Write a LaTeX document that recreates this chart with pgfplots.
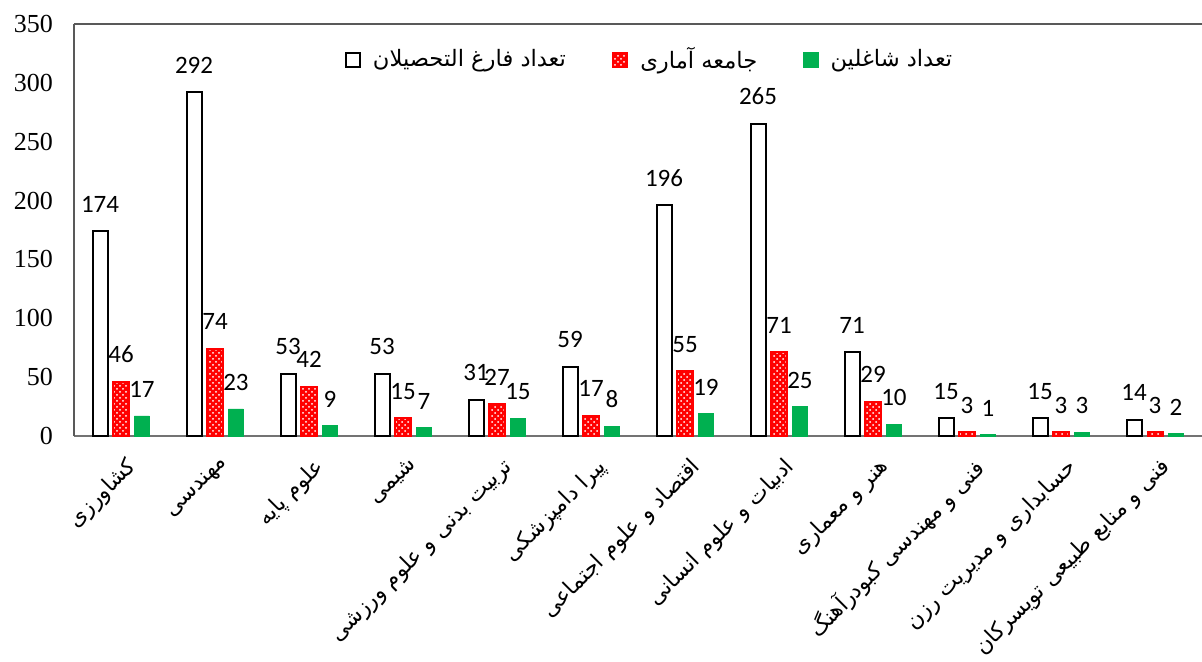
\documentclass[border=0pt]{standalone}
\usepackage{fontspec}
\setmainfont{Liberation Serif}
\newfontfamily\arabicfont[Script=Arabic]{DejaVu Sans}
\newfontfamily\numfont{Carlito}
\TeXXeTstate=1
\usepackage{pgfplots}
\usepackage{pgfplotstable}
\pgfplotsset{compat=1.18}
\usetikzlibrary{patterns}

% x: category index, grad = graduates, pop = sample, emp = employed
\pgfplotstableread{
x grad pop emp
0  174 46 17
1  292 74 23
2  53  42 9
3  53  15 7
4  31  27 15
5  59  17 8
6  196 55 19
7  265 71 25
8  71  29 10
9  15  3  1
10 15  3  3
11 14  3  2
}\data

\definecolor{exgreen}{HTML}{00B050}
\definecolor{axgray}{HTML}{595959}

\begin{document}
\begin{tikzpicture}
\begin{axis}[
  scale only axis,
  width=564pt, height=206pt,
  ybar,
  bar width=0.16,
  xmin=-0.5, xmax=11.5,
  ymin=0, ymax=350,
  ytick={0,50,...,350},
  xtick={0,...,11},
  xticklabels={
    {\beginR کشاورزی\endR},
    {\beginR مهندسی\endR},
    {\beginR علوم پایه\endR},
    {\beginR شیمی\endR},
    {\beginR تربیت بدنی و علوم ورزشی\endR},
    {\beginR پیرا دامپزشکی\endR},
    {\beginR اقتصاد و علوم اجتماعی\endR},
    {\beginR ادبیات و علوم انسانی\endR},
    {\beginR هنر و معماری\endR},
    {\beginR فنی و مهندسی کبودرآهنگ\endR},
    {\beginR حسابداری و مدیریت رزن\endR},
    {\beginR فنی و منابع طبیعی تویسرکان\endR}},
  axis x line*=bottom,
  axis y line*=left,
  x axis line style={draw=gray!90!black, line width=0.8pt},
  y axis line style={draw=axgray, line width=0.8pt},
  major tick length=0pt,
  /pgf/number format/assume math mode=true,
  yticklabel style={font=\fontsize{13}{13}\selectfont, xshift=-7pt},
  xticklabel style={rotate=45, anchor=north east,
    font=\arabicfont\fontsize{11}{13}\selectfont, yshift=-5pt, xshift=-2pt},
  nodes near coords,
  every node near coord/.append style={font=\numfont\fontsize{12.5}{13}\selectfont,
    black, anchor=south, inner sep=0pt, yshift=9pt},
  legend columns=3,
  legend style={at={(0.511,0.913)}, anchor=center, draw=none, fill=none,
    font=\arabicfont\fontsize{11.3}{13}\selectfont,
    /tikz/every even column/.append style={column sep=21pt}},
  legend image code/.code={\draw[#1] (0pt,-3.6pt) rectangle (7.2pt,3.6pt);},
]
\addplot[bar shift=-0.223, draw=black, fill=white, line width=1pt]
  table[x=x, y=grad]{\data};
\addlegendentry{\hspace{4pt}\beginR تعداد فارغ التحصیلان\endR}
\addplot[bar shift=0, draw=red, fill=red, line width=1pt,
  postaction={pattern=crosshatch dots, pattern color=white}]
  table[x=x, y=pop]{\data};
\addlegendentry{\hspace{4pt}\beginR جامعه آماری\endR}
\addplot[bar shift=0.223, draw=exgreen, fill=exgreen]
  table[x=x, y=emp]{\data};
\addlegendentry{\hspace{4pt}\beginR تعداد شاغلین\endR}
\draw[axgray, line width=0.8pt] (rel axis cs:0,1) -- (rel axis cs:1,1);
\coordinate (bl) at (rel axis cs:0,0);
\coordinate (tr) at (rel axis cs:1,1);
\end{axis}
\pgfresetboundingbox
\path ([shift={(-37pt,-113pt)}]bl) rectangle ([shift={(0pt,12pt)}]tr);
\end{tikzpicture}
\end{document}
